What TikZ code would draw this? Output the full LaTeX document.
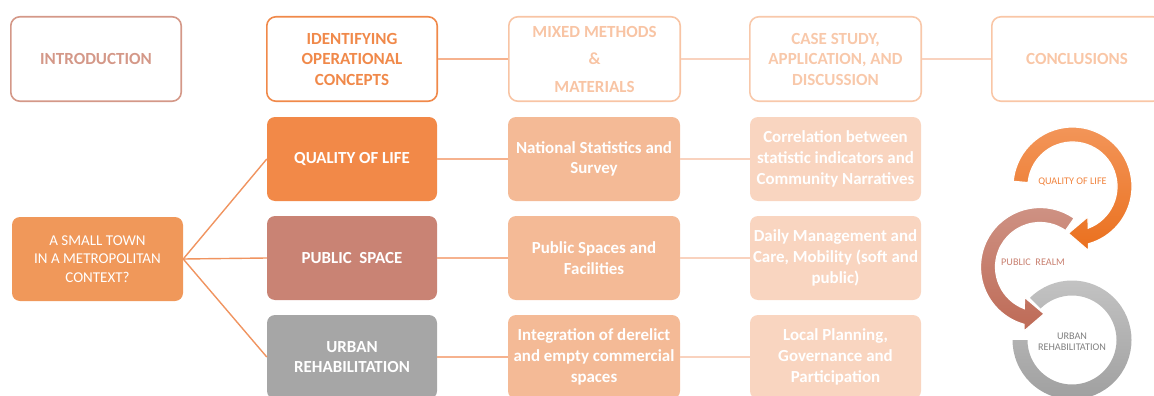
\documentclass[tikz,border=0pt]{standalone}
\usepackage{fontspec}
\setmainfont{Carlito}
\definecolor{introC}{RGB}{212,152,136}
\definecolor{identC}{RGB}{240,137,74}
\definecolor{mixedC}{RGB}{248,196,164}
\definecolor{caseC}{RGB}{248,200,170}
\definecolor{conclC}{RGB}{249,198,166}
\definecolor{townC}{RGB}{240,152,90}
\definecolor{qolC}{RGB}{242,137,72}
\definecolor{psC}{RGB}{201,131,116}
\definecolor{urC}{RGB}{166,166,166}
\definecolor{midC}{RGB}{244,186,150}
\definecolor{rightC}{RGB}{249,213,192}
\definecolor{fanC}{RGB}{240,148,96}
\definecolor{linkA}{RGB}{246,178,142}
\definecolor{linkB}{RGB}{249,210,190}
\definecolor{orTop}{RGB}{243,150,90}
\definecolor{orBot}{RGB}{234,112,30}
\definecolor{roTop}{RGB}{207,148,134}
\definecolor{roBot}{RGB}{190,106,86}
\definecolor{grTop}{RGB}{196,196,196}
\definecolor{grBot}{RGB}{158,158,158}
\definecolor{orLabel}{RGB}{240,130,60}
\definecolor{roLabel}{RGB}{200,128,112}
\definecolor{grLabel}{RGB}{128,128,128}
\begin{document}
\begin{tikzpicture}[x=1pt,y=-1pt,
  phase/.style={draw, line width=1.6pt, rounded corners=9pt,
    minimum height=84.4pt, align=center, inner sep=0pt,
    font=\fontsize{17}{20.5}\selectfont\bfseries},
  tile/.style={rounded corners=8pt, minimum height=84pt, align=center,
    inner sep=0pt, text=white,
    font=\fontsize{16.9}{20.7}\selectfont\bfseries},
  link/.style={line width=1.8pt},
  fan/.style={line width=1.4pt, draw=fanC},
  ringlabel/.style={align=center, inner sep=0pt,
    font=\fontsize{10.2}{11.2}\selectfont}]
\useasboundingbox (0,0) rectangle (1154,396);
\clip (0,0) rectangle (1154,396);

% ---- phases of the study (top row) ----
\node[phase, draw=introC, text=introC, minimum width=170.4pt] (intro) at (96,59) {INTRODUCTION};
\node[phase, draw=identC, text=identC, minimum width=170.4pt] (ident) at (352,59) {IDENTIFYING\\OPERATIONAL\\CONCEPTS};
\node[phase, draw=mixedC, text=mixedC, minimum width=171.4pt,
  font=\fontsize{17}{27.5}\selectfont\bfseries] (mixed) at (594.5,59) {MIXED METHODS\\\&\\MATERIALS};
\node[phase, draw=caseC, text=caseC, minimum width=171.4pt] (case) at (835.5,59) {CASE STUDY,\\APPLICATION, AND\\DISCUSSION};
\node[phase, draw=conclC, text=conclC, minimum width=170.4pt] (concl) at (1077,59) {CONCLUSIONS};

\draw[link, draw=linkA] (ident.east) -- (mixed.west);
\draw[link, draw=linkB] (mixed.east) -- (case.west);
\draw[link, draw=linkB] (case.east) -- (concl.west);

% ---- research question and operational concepts ----
\node[tile, fill=townC, minimum width=171pt,
  font=\fontsize{15}{18.7}\selectfont] (town) at (97.5,259) {A SMALL TOWN\\IN A METROPOLITAN\\CONTEXT?};
\node[tile, fill=qolC, minimum width=170pt] (qol) at (352,159) {QUALITY OF LIFE};
\node[tile, fill=psC, minimum width=170pt] (ps) at (352,258) {PUBLIC~~SPACE};
\node[tile, fill=urC, minimum width=170pt] (ur) at (352,357) {URBAN\\REHABILITATION};

\draw[fan] (town.east) -- (qol.west);
\draw[fan] (town.east) -- (ps.west);
\draw[fan] (town.east) -- (ur.west);

% ---- methods ----
\node[tile, fill=midC, minimum width=172pt] (m1) at (594,159) {National Statistics and\\Survey};
\node[tile, fill=midC, minimum width=172pt] (m2) at (594,258) {Public Spaces and\\Facilities};
\node[tile, fill=midC, minimum width=172pt] (m3) at (594,357) {Integration of derelict\\and empty commercial\\spaces};

% ---- case study topics ----
\node[tile, fill=rightC, minimum width=171pt] (c1) at (835.5,159) {Correlation between\\statistic indicators and\\Community Narratives};
\node[tile, fill=rightC, minimum width=171pt] (c2) at (835.5,258) {Daily Management and\\Care, Mobility (soft and\\public)};
\node[tile, fill=rightC, minimum width=171pt] (c3) at (835.5,357) {Local Planning,\\Governance and\\Participation};

\draw[link, draw=linkA] (qol.east) -- (m1.west);
\draw[link, draw=linkA] (ps.east) -- (m2.west);
\draw[link, draw=linkA] (ur.east) -- (m3.west);
\draw[link, draw=linkB] (m1.east) -- (c1.west);
\draw[link, draw=linkB] (m2.east) -- (c2.west);
\draw[link, draw=linkB] (m3.east) -- (c3.west);

% ---- cycle of the three concepts ----
\begin{scope}[shift={(1072,340)}, x=1pt, y=1pt]
  \shade[top color=grTop, bottom color=grBot]
    (135:59.5) arc[start angle=135, end angle=-180, radius=59.5]
    -- (180:44.5) arc[start angle=-180, end angle=135, radius=44.5] -- cycle;
\end{scope}
\begin{scope}[shift={(1040,267)}, x=1pt, y=1pt]
  \shade[top color=roTop, bottom color=roBot, draw=white, line width=1.2pt]
    (55:59.5) arc[start angle=55, end angle=254.5, radius=59.5]
    -- (256:66) -- (275:47) -- (243:34)
    -- (249.3:44.5) arc[start angle=249.3, end angle=55, radius=44.5] -- cycle;
\end{scope}
\begin{scope}[shift={(1072.5,186.5)}, x=1pt, y=1pt]
  \shade[top color=orTop, bottom color=orBot, draw=white, line width=1.2pt]
    (175:59.5) arc[start angle=175, end angle=-74.5, radius=59.5]
    -- (-76:66) -- (-95:47) -- (-63:34)
    -- (-69.3:44.5) arc[start angle=-69.3, end angle=175, radius=44.5] -- cycle;
\end{scope}

\node[ringlabel, text=orLabel] (lq) at (1072.5,182) {QUALITY OF LIFE};
\node[ringlabel, text=roLabel] (lp) at (1033,262) {PUBLIC~~REALM};
\node[ringlabel, text=grLabel] (lu) at (1072,342) {URBAN\\REHABILITATION};
\end{tikzpicture}
\end{document}
